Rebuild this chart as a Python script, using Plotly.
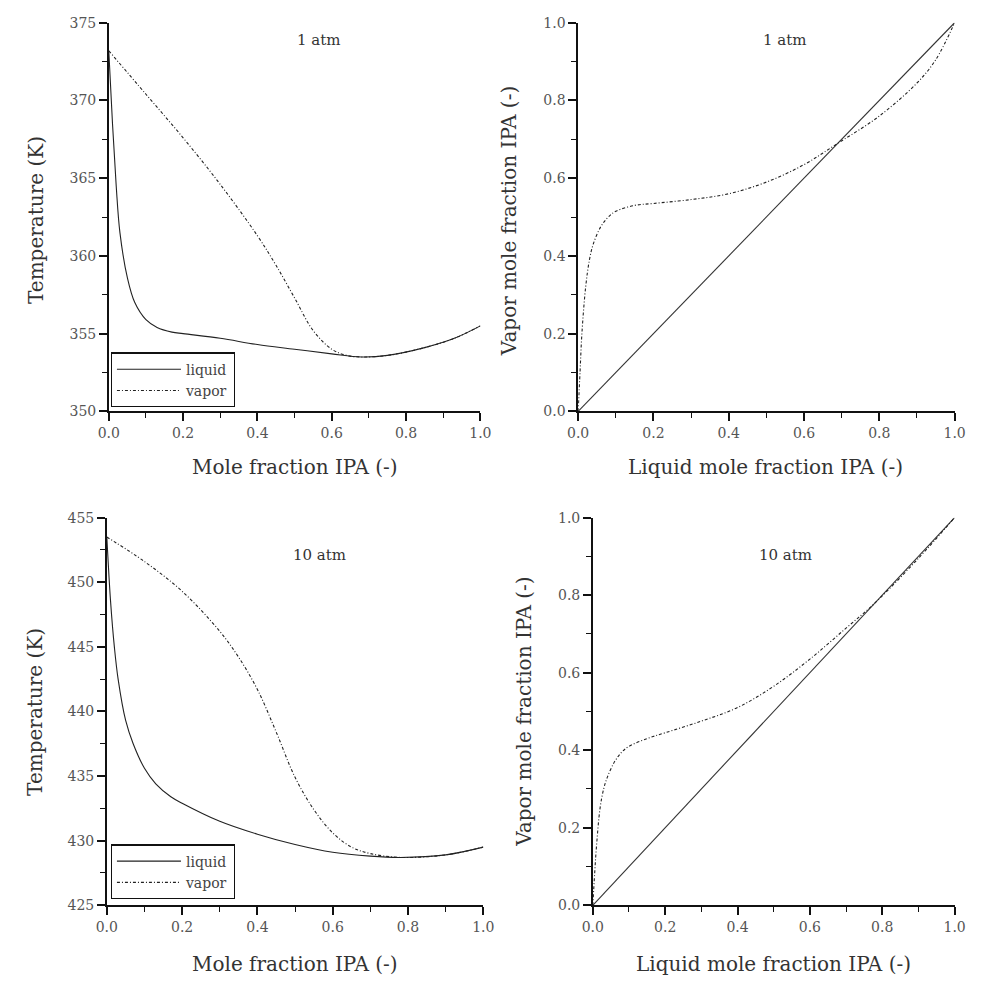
import plotly.graph_objects as go

# ---------------- data ----------------
# 1 atm T-x-y
x_liq_1 = [0.0, 0.01, 0.02, 0.03, 0.05, 0.07, 0.1, 0.13, 0.17, 0.2, 0.3, 0.4, 0.5, 0.6, 0.68, 0.75, 0.85, 0.93, 1.0]
T_liq_1 = [373.2, 368.5, 364.5, 361.5, 358.6, 357.0, 355.9, 355.4, 355.1, 355.0, 354.7, 354.3, 354.0, 353.7, 353.5, 353.6, 354.1, 354.7, 355.5]
y_vap_1 = [0.0, 0.1, 0.2, 0.3, 0.4, 0.45, 0.5, 0.55, 0.6, 0.64, 0.68, 0.75, 0.85, 0.93, 1.0]
T_vap_1 = [373.2, 370.4, 367.6, 364.6, 361.3, 359.4, 357.3, 355.2, 354.0, 353.6, 353.5, 353.6, 354.1, 354.7, 355.5]

# 10 atm T-x-y
x_liq_10 = [0.0, 0.01, 0.02, 0.03, 0.05, 0.07, 0.1, 0.13, 0.17, 0.2, 0.3, 0.4, 0.5, 0.6, 0.7, 0.78, 0.9, 1.0]
T_liq_10 = [453.5, 448.5, 445.0, 442.5, 439.3, 437.5, 435.6, 434.4, 433.4, 432.9, 431.5, 430.5, 429.7, 429.1, 428.8, 428.7, 428.9, 429.5]
y_vap_10 = [0.0, 0.1, 0.2, 0.3, 0.35, 0.4, 0.45, 0.5, 0.55, 0.6, 0.65, 0.7, 0.78, 0.9, 1.0]
T_vap_10 = [453.5, 451.6, 449.3, 446.2, 444.2, 441.7, 438.4, 434.9, 432.4, 430.6, 429.5, 429.0, 428.7, 428.9, 429.5]

# y-x diagrams
x_yx_1 = [0.0, 0.005, 0.01, 0.02, 0.03, 0.04, 0.06, 0.08, 0.1, 0.15, 0.2, 0.3, 0.4, 0.5, 0.6, 0.69, 0.8, 0.9, 0.95, 1.0]
y_yx_1 = [0.0, 0.1, 0.2, 0.32, 0.39, 0.43, 0.475, 0.5, 0.515, 0.53, 0.535, 0.545, 0.56, 0.59, 0.635, 0.69, 0.76, 0.845, 0.905, 1.0]
x_yx_10 = [0.0, 0.005, 0.01, 0.02, 0.03, 0.04, 0.06, 0.08, 0.1, 0.15, 0.2, 0.3, 0.4, 0.5, 0.6, 0.7, 0.78, 0.9, 1.0]
y_yx_10 = [0.0, 0.08, 0.15, 0.25, 0.3, 0.33, 0.37, 0.395, 0.41, 0.43, 0.445, 0.475, 0.51, 0.565, 0.635, 0.715, 0.78, 0.895, 1.0]
diag = [0.0, 1.0]

x_ticks = [0.0, 0.2, 0.4, 0.6, 0.8, 1.0]
x_tick_text = ["0.0", "0.2", "0.4", "0.6", "0.8", "1.0"]
T1_ticks = [350, 355, 360, 365, 370, 375]
T10_ticks = [425, 430, 435, 440, 445, 450, 455]

FONT = "DejaVu Serif"
VDASH = "3px,2px,1px,2px"

fig = go.Figure()

# top-left
fig.add_trace(go.Scatter(x=x_liq_1, y=T_liq_1, mode="lines", name="liquid", line=dict(color="#222", width=1.1),
                         line_shape="spline", xaxis="x", yaxis="y", legend="legend"))
fig.add_trace(go.Scatter(x=y_vap_1, y=T_vap_1, mode="lines", name="vapor", line=dict(color="#222", width=1.1, dash=VDASH),
                         line_shape="spline", xaxis="x", yaxis="y", legend="legend"))
# top-right
fig.add_trace(go.Scatter(x=diag, y=diag, mode="lines", showlegend=False, line=dict(color="#333", width=1.1), xaxis="x2", yaxis="y2"))
fig.add_trace(go.Scatter(x=x_yx_1, y=y_yx_1, mode="lines", showlegend=False, line=dict(color="#222", width=1.1, dash=VDASH),
                         line_shape="spline", xaxis="x2", yaxis="y2"))
# bottom-left
fig.add_trace(go.Scatter(x=x_liq_10, y=T_liq_10, mode="lines", name="liquid", line=dict(color="#222", width=1.1),
                         line_shape="spline", xaxis="x3", yaxis="y3", legend="legend2"))
fig.add_trace(go.Scatter(x=y_vap_10, y=T_vap_10, mode="lines", name="vapor", line=dict(color="#222", width=1.1, dash=VDASH),
                         line_shape="spline", xaxis="x3", yaxis="y3", legend="legend2"))
# bottom-right
fig.add_trace(go.Scatter(x=diag, y=diag, mode="lines", showlegend=False, line=dict(color="#333", width=1.1), xaxis="x4", yaxis="y4"))
fig.add_trace(go.Scatter(x=x_yx_10, y=y_yx_10, mode="lines", showlegend=False, line=dict(color="#222", width=1.1, dash=VDASH),
                         line_shape="spline", xaxis="x4", yaxis="y4"))

W, H = 992, 990
def px(v): return v / W
def py(v): return 1 - v / H

tickfont = dict(family=FONT, size=14, color="#555")
def xax(dom, anchor):
    return dict(domain=dom, anchor=anchor, range=[0, 1], tickvals=x_ticks, ticktext=x_tick_text,
                showline=True, linecolor="#111", linewidth=1.5, ticks="outside", ticklen=8, tickwidth=1.5,
                tickcolor="#111", showgrid=False, zeroline=False, tickfont=tickfont,
                minor=dict(ticks="outside", ticklen=5, tickwidth=1.2, tickcolor="#111", dtick=0.1, showgrid=False))
def yax(dom, anchor, rng, tv, dt):
    return dict(domain=dom, anchor=anchor, range=rng, tickvals=tv, ticktext=[str(t) for t in tv] if isinstance(tv[0], int) else x_tick_text,
                showline=True, linecolor="#111", linewidth=1.5, ticks="outside", ticklen=8, tickwidth=1.5,
                tickcolor="#111", showgrid=False, zeroline=False, tickfont=tickfont,
                minor=dict(ticks="outside", ticklen=5, tickwidth=1.2, tickcolor="#111", dtick=dt, showgrid=False))

legend_style = dict(bordercolor="#111", borderwidth=1.2, bgcolor="white",
                    font=dict(family=FONT, size=14, color="#444"), xanchor="left", yanchor="bottom",
                    tracegroupgap=0, itemwidth=64)

fig.update_layout(
    width=W, height=H, margin=dict(l=0, r=0, t=0, b=0),
    paper_bgcolor="white", plot_bgcolor="white",
    xaxis=xax([px(100), px(480)], "y"),
    yaxis=yax([py(410), py(15)], "x", [350, 375], T1_ticks, 2.5),
    xaxis2=xax([px(580), px(965)], "y2"),
    yaxis2=yax([py(410), py(15)], "x2", [0, 1], x_ticks, 0.1),
    xaxis3=xax([px(98), px(483)], "y3"),
    yaxis3=yax([py(912), py(518)], "x3", [425, 455], T10_ticks, 2.5),
    xaxis4=xax([px(595), px(965)], "y4"),
    yaxis4=yax([py(912), py(518)], "x4", [0, 1], x_ticks, 0.1),
    legend=dict(x=px(102), y=py(406), **legend_style),
    legend2=dict(x=px(102), y=py(906), **legend_style),
)

ann_font = dict(family=FONT, size=20, color="#333")
title_font = dict(family=FONT, size=15, color="#333")
anns = [
    dict(text="1 atm", x=px(315), y=py(33), font=title_font),
    dict(text="1 atm", x=px(792), y=py(33), font=title_font),
    dict(text="10 atm", x=px(315), y=py(556), font=title_font),
    dict(text="10 atm", x=px(792), y=py(556), font=title_font),
    dict(text="Mole fraction IPA (-)", x=px(290), y=py(467), font=ann_font),
    dict(text="Liquid mole fraction IPA (-)", x=px(772), y=py(467), font=ann_font),
    dict(text="Mole fraction IPA (-)", x=px(290), y=py(972), font=ann_font),
    dict(text="Liquid mole fraction IPA (-)", x=px(780), y=py(972), font=ann_font),
    dict(text="Temperature (K)", x=px(25), y=py(215), font=ann_font, textangle=-90),
    dict(text="Vapor mole fraction IPA (-)", x=px(510), y=py(217), font=ann_font, textangle=-90),
    dict(text="Temperature (K)", x=px(25), y=py(715), font=ann_font, textangle=-90),
    dict(text="Vapor mole fraction IPA (-)", x=px(525), y=py(715), font=ann_font, textangle=-90),
]
for a in anns:
    fig.add_annotation(xref="paper", yref="paper", showarrow=False, xanchor="center", yanchor="middle", **a)

fig.write_html("out.html")
